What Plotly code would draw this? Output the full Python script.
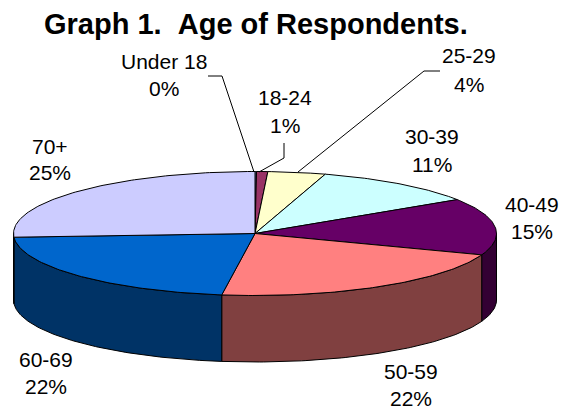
import math
import plotly.graph_objects as go

categories = ["Under 18", "18-24", "25-29", "30-39", "40-49", "50-59", "60-69", "70+"]
values = [0.1, 0.75, 3.85, 11.1, 14.8, 21.6, 21.85, 25.95]
pct_labels = ["0%", "1%", "4%", "11%", "15%", "22%", "22%", "25%"]
top_colors = ["#9999FF", "#993366", "#FFFFCC", "#CCFFFF", "#660066", "#FF8080", "#0066CC", "#CCCCFF"]
side_colors = ["#4D4D80", "#4D1A33", "#808066", "#668080", "#330033", "#804040", "#003366", "#666680"]

W, H = 563, 409
CX, CY, RX, RY, DEPTH = 255, 233.5, 241.5, 62, 66.5
name_pos = [(164, 61), (285, 97), (469, 55), (432, 136), (532, 204), (411, 371), (46, 359), (50, 146)]
pct_pos = [(164, 88), (285, 125), (469, 84), (432, 164), (532, 231), (411, 398), (46, 386), (50, 172)]
leaders = {
    "Under 18": ([208, 222, 254], [76, 76, 172]),
    "18-24": ([284, 284, 259], [143, 158, 172]),
    "25-29": ([440, 424, 298], [71, 71, 172]),
}


def point(frac, dy=0.0):
    t = 2 * math.pi * frac
    return CX + RX * math.sin(t), CY - RY * math.cos(t) + dy


def arc(f0, f1, dy=0.0):
    n = max(2, int(abs(f1 - f0) * 400))
    return [point(f0 + (f1 - f0) * i / n, dy) for i in range(n + 1)]


fig = go.Figure()
total = sum(values)
edges = [0.0]
for v in values:
    edges.append(edges[-1] + v / total)


def poly(pts, fill):
    xs = [p[0] for p in pts] + [pts[0][0]]
    ys = [p[1] for p in pts] + [pts[0][1]]
    fig.add_trace(go.Scatter(x=xs, y=ys, mode="lines", fill="toself", fillcolor=fill,
                             line=dict(color="#000000", width=1), hoverinfo="skip", showlegend=False))


# side walls: only the front half of the disc is visible
for i in range(len(values)):
    a, b = max(edges[i], 0.25), min(edges[i + 1], 0.75)
    if b > a:
        poly(arc(a, b) + arc(b, a, DEPTH), side_colors[i])

# top faces
for i in range(len(values)):
    poly([(CX, CY)] + arc(edges[i], edges[i + 1]), top_colors[i])

# leader lines
for xs, ys in leaders.values():
    fig.add_trace(go.Scatter(x=xs, y=ys, mode="lines", line=dict(color="#000000", width=1),
                             hoverinfo="skip", showlegend=False))

annotations = [dict(x=256, y=23.5, text="<b>Graph 1.\u00a0\u00a0Age of Respondents.</b>", showarrow=False,
                    xanchor="center", yanchor="middle",
                    font=dict(family="Liberation Sans", size=29, color="#000000"))]
for name, pct, np_, pp in zip(categories, pct_labels, name_pos, pct_pos):
    for txt, (x, y) in ((name, np_), (pct, pp)):
        annotations.append(dict(x=x, y=y, text=txt, showarrow=False, xanchor="center", yanchor="middle",
                                font=dict(family="Liberation Sans", size=21, color="#000000")))

fig.update_layout(
    width=W, height=H, margin=dict(l=0, r=0, t=0, b=0),
    paper_bgcolor="#FFFFFF", plot_bgcolor="#FFFFFF",
    xaxis=dict(range=[0, W], visible=False, fixedrange=True),
    yaxis=dict(range=[H, 0], visible=False, fixedrange=True),
    annotations=annotations, showlegend=False,
)
fig.write_html("out.html", config=dict(displayModeBar=False),
               post_script="document.body.style.margin='0';document.documentElement.style.overflow='hidden';")
